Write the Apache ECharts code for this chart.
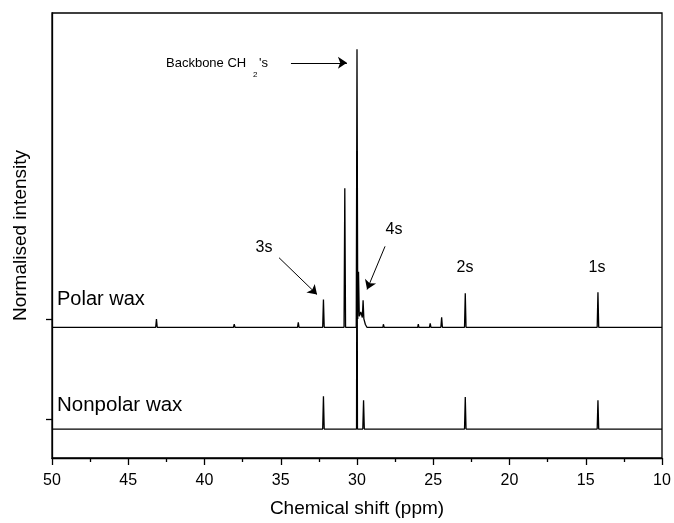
<!DOCTYPE html>
<html>
<head>
<meta charset="utf-8">
<script src="https://cdn.jsdelivr.net/npm/echarts@6/dist/echarts.min.js"></script>
<style>
  html, body { margin: 0; padding: 0; background: #fff; }
  #chart { width: 674px; height: 523px; }
</style>
</head>
<body>
<div id="chart"></div>
<script>
// x ticks (ppm), axis runs 50 -> 10
var ppmMin = 10, ppmMax = 50, ppmStep = 5;

// polar wax trace, vertices (ppm, normalised intensity)
var polarPpm = [50, 44.15, 44.1, 44.05, 43.2, 43.15, 43.1, 38.1, 38.05, 38.0, 36.05, 36.0, 35.95,
    34.65, 34.6, 34.55, 33.9, 33.85, 33.8, 32.25, 32.2, 32.15, 30.85, 30.8, 30.75,
    30.05, 30.0, 29.95, 29.9, 29.85, 29.75, 29.65, 29.6, 29.55, 29.45, 29.35,
    29.1, 29.05, 29.0, 28.3, 28.27, 28.22, 26.02, 25.98, 25.94, 25.55, 25.5, 25.45,
    25.25, 25.2, 25.15, 24.5, 24.45, 24.4, 22.95, 22.9, 22.85, 14.25, 14.2, 14.15, 10];
var polarInt = [0, 0, 0.007, 0, 0, 0.03, 0, 0, 0.011, 0, 0, 0.007, 0,
    0, 0.007, 0, 0, 0.018, 0, 0, 0.10, 0, 0, 0.50, 0,
    0, 1.0, 0.03, 0.20, 0.04, 0.055, 0.035, 0.097, 0.03, 0.01, 0,
    0, 0.007, 0, 0, 0.011, 0, 0, 0.011, 0, 0, 0.007, 0,
    0, 0.014, 0, 0, 0.036, 0, 0, 0.122, 0, 0, 0.126, 0, 0];

// nonpolar wax trace
var nonpolarPpm = [50, 32.25, 32.2, 32.15, 30.03, 30.0, 29.97, 29.62, 29.57, 29.52,
    22.95, 22.9, 22.85, 14.25, 14.2, 14.15, 10];
var nonpolarInt = [0, 0, 0.118, 0, 0, 1.0, 0, 0, 0.104, 0,
    0, 0.115, 0, 0, 0.104, 0, 0];

// vertical stacking of the two traces
var polarOffset = 0.47;
var nonpolarOffset = 0.104;
var yMin = 0, yMax = 1.6;
var yTicks = [0.14, 0.5];

function trace(ppm, inten, off) {
    var out = [];
    for (var i = 0; i < ppm.length; i++) {
        out.push([ppm[i], off + inten[i]]);
    }
    return out;
}

var font = "'Liberation Sans', Arial, sans-serif";
var chart = echarts.init(document.getElementById('chart'));

var arrowStyle = {color: '#000', width: 1, type: 'solid'};

var option = {
    animation: false,
    backgroundColor: '#fff',
    grid: {left: 52, right: 12, top: 13, bottom: 64, show: true, borderColor: '#000', borderWidth: 1.3},
    xAxis: {
        type: 'value',
        inverse: true,
        min: ppmMin,
        max: ppmMax,
        interval: ppmStep,
        name: 'Chemical shift (ppm)',
        nameLocation: 'middle',
        nameGap: 41,
        nameTextStyle: {fontFamily: font, fontSize: 19, color: '#000'},
        axisLine: {show: true, lineStyle: {color: '#000', width: 1.3}},
        axisTick: {show: true, length: 7, lineStyle: {color: '#000', width: 1.3}},
        minorTick: {show: true, splitNumber: 2, length: 4, lineStyle: {color: '#000', width: 1.3}},
        axisLabel: {fontFamily: font, fontSize: 16, color: '#000', margin: 15},
        splitLine: {show: false}
    },
    yAxis: {
        type: 'value',
        min: yMin,
        max: yMax,
        name: 'Normalised intensity',
        nameLocation: 'middle',
        nameGap: 22,
        nameTextStyle: {fontFamily: font, fontSize: 19, color: '#000'},
        axisLine: {show: true, lineStyle: {color: '#000', width: 1.3}},
        axisTick: {show: true, length: 6, customValues: yTicks, lineStyle: {color: '#000', width: 1.3}},
        axisLabel: {show: false},
        splitLine: {show: false}
    },
    series: [
        {
            name: 'Nonpolar wax',
            type: 'line',
            data: trace(nonpolarPpm, nonpolarInt, nonpolarOffset),
            showSymbol: false,
            lineStyle: {color: '#000', width: 1.3},
            z: 2
        },
        {
            name: 'Polar wax',
            type: 'line',
            data: trace(polarPpm, polarInt, polarOffset),
            showSymbol: false,
            lineStyle: {color: '#000', width: 1.3},
            z: 3,
            markLine: {
                silent: true,
                symbol: ['none', 'arrow'],
                symbolSize: 9,
                label: {show: false},
                lineStyle: arrowStyle,
                data: [
                    [{coord: [34.33, 1.421]}, {coord: [30.66, 1.421]}],   // backbone
                    [{coord: [35.11, 0.720]}, {coord: [32.62, 0.588]}],   // 3s
                    [{coord: [28.16, 0.761]}, {coord: [29.34, 0.606]}]    // 4s
                ]
            }
        }
    ],
    graphic: [
        {type: 'text', left: 57, top: 289, style: {text: 'Polar wax', fontFamily: font, fontSize: 20, fill: '#000'}},
        {type: 'text', left: 57, top: 395, style: {text: 'Nonpolar wax', fontFamily: font, fontSize: 20.5, fill: '#000'}},
        {type: 'text', x: 264, y: 248, style: {text: '3s', fontFamily: font, fontSize: 16, fill: '#000', align: 'center', verticalAlign: 'middle'}},
        {type: 'text', x: 394, y: 230, style: {text: '4s', fontFamily: font, fontSize: 16, fill: '#000', align: 'center', verticalAlign: 'middle'}},
        {type: 'text', x: 465, y: 268, style: {text: '2s', fontFamily: font, fontSize: 16, fill: '#000', align: 'center', verticalAlign: 'middle'}},
        {type: 'text', x: 597, y: 268, style: {text: '1s', fontFamily: font, fontSize: 16, fill: '#000', align: 'center', verticalAlign: 'middle'}},
        {type: 'text', x: 166, y: 63, style: {text: 'Backbone CH', fontFamily: font, fontSize: 13, fill: '#000', verticalAlign: 'middle'}},
        {type: 'text', x: 253, y: 75, style: {text: '2', fontFamily: font, fontSize: 8, fill: '#000', verticalAlign: 'middle'}},
        {type: 'text', x: 259, y: 63, style: {text: "'s", fontFamily: font, fontSize: 13, fill: '#000', verticalAlign: 'middle'}}
    ]
};

chart.setOption(option);
</script>
</body>
</html>
